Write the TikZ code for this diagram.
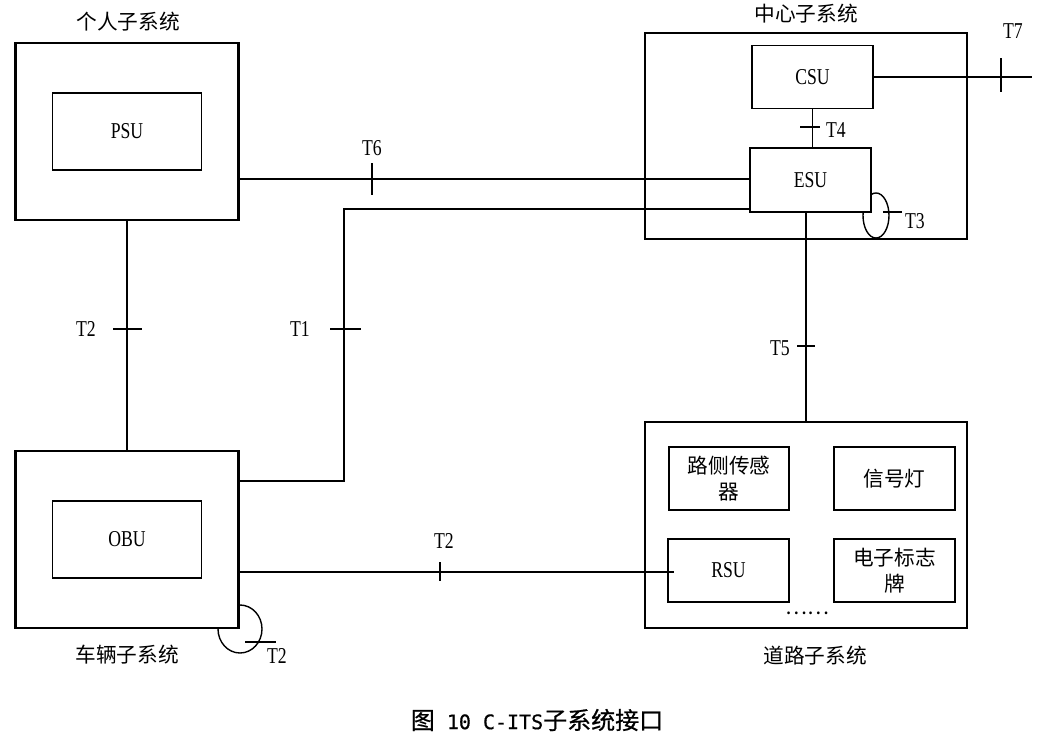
\documentclass[tikz,border=0pt]{standalone}
\usepackage{fontspec}
\setmainfont{Liberation Serif}
\newfontfamily\cjk{Noto Sans CJK SC}
\newfontfamily\cjkcap[FakeBold=0.6]{Noto Sans CJK SC}
\newfontfamily\capmono[FakeBold=0.6]{DejaVu Sans Mono}
\newfontfamily\lat[FakeStretch=0.78]{Liberation Serif}
\usetikzlibrary{calc}
\begin{document}
\begin{tikzpicture}[x=0.75pt,y=-0.75pt,
  outer/.style={draw, line width=1.9pt, fill=white, inner sep=0pt},
  innerbox/.style={draw, line width=1.2pt, fill=white, inner sep=0pt, align=center},
  wire/.style={line width=1.05pt},
  tickm/.style={line width=1.05pt},
  lbl/.style={font=\lat\fontsize{17}{20}\selectfont, inner sep=0pt},
  zh/.style={font=\cjk\fontsize{15.5}{20}\selectfont, inner sep=0pt, align=center}]
\useasboundingbox (0,0) rectangle (1046,743);
\fill[white] (0,0) rectangle (1046,743);
% loop of the vehicle subsystem (drawn first, the box covers its inner part)
\draw[wire] (240,629) ellipse [x radius=16.5pt, y radius=18pt];
% outer boxes
\node[outer, minimum width=167.25pt, minimum height=132.75pt] (personal) at (127,131.5) {};
\node[outer, minimum width=167.25pt, minimum height=132.75pt] (vehicle) at (127,539.5) {};
\node[outer, minimum width=241.5pt, minimum height=154.5pt] (center) at (806,136) {};
\node[outer, minimum width=241.5pt, minimum height=154.5pt] (road) at (806,525) {};
% loop of ESU
\draw[wire] (876,215.5) ellipse [x radius=9.75pt, y radius=16.9pt];
% inner boxes
\node[innerbox, lbl, minimum width=111.75pt, minimum height=57.75pt] (psu) at (127,131.5) {PSU};
\node[innerbox, lbl, minimum width=111.75pt, minimum height=57.75pt] (obu) at (127,539.5) {OBU};
\node[innerbox, lbl, minimum width=90.75pt, minimum height=47.25pt] (CSU) at (812.5,77) {CSU};
\node[innerbox, lbl, minimum width=90.75pt, minimum height=48pt] (ESU) at (810.5,180) {ESU};
\node[innerbox, zh, minimum width=90pt, minimum height=47.25pt] (sensor) at (729,478.5) {路侧传感\\器};
\node[innerbox, zh, minimum width=90.75pt, minimum height=47.25pt] (signal) at (894.5,478.5) {信号灯};
\node[innerbox, lbl, minimum width=90.75pt, minimum height=47.25pt] (RSU) at (728.5,570.5) {RSU};
\node[innerbox, zh, minimum width=90.75pt, minimum height=47.25pt] (sign) at (894.5,570.5) {电子标志\\牌};
\node[zh] (dots) at (807,613) {……};
% titles
\node[zh] (tpersonal) at (128,22) {个人子系统};
\node[zh] (tvehicle) at (127,655) {车辆子系统};
\node[zh] (tcenter) at (806,14) {中心子系统};
\node[zh] (troad) at (815,656) {道路子系统};
% connectors
\coordinate (t1a) at (344,209);
\coordinate (t1b) at (344,481);
\coordinate (t7end) at (1032,77);
\draw[wire] (personal.east |- 0,179) -- (ESU.west |- 0,179);
\draw[wire] (ESU.west |- t1a) -- (t1a) -- (t1b) -- (vehicle.east |- t1b);
\draw[wire] (personal.south) -- (vehicle.north);
\draw[wire] (vehicle.east |- 0,572) -- ($(RSU.west |- 0,572)+(7,0)$);
\draw[wire] (CSU.south) -- (CSU.south |- ESU.north);
\draw[wire] (road.north) -- (road.north |- ESU.south);
\draw[wire] (CSU.east) -- (t7end);
% ticks
\draw[tickm] (372,163) -- (372,195);
\draw[tickm] (330,329) -- (361,329);
\draw[tickm] (113,329) -- (142,329);
\draw[tickm] (440,562) -- (440,581);
\draw[tickm] (245,642) -- (276,642);
\draw[tickm] (797,346) -- (815,346);
\draw[tickm] (800,127) -- (820,127);
\draw[tickm] (883,212) -- (902,212);
\draw[tickm] (1001,58) -- (1001,92);
% interface labels
\node[lbl] (lT6) at (372,148) {T6};
\node[lbl] (lT1) at (300,329) {T1};
\node[lbl] (lT2a) at (86,329) {T2};
\node[lbl] (lT2b) at (444,541) {T2};
\node[lbl] (lT2c) at (277,656) {T2};
\node[lbl] (lT5) at (780,348) {T5};
\node[lbl] (lT4) at (836,130) {T4};
\node[lbl] (lT3) at (915,221) {T3};
\node[lbl] (lT7) at (1013,31) {T7};
% caption
\node[inner sep=0pt] (cap) at (537,720) {\cjkcap\fontsize{18}{20}\selectfont 图{\capmono\fontsize{15}{20}\selectfont\ 10 C-ITS}子系统接口};
\end{tikzpicture}
\end{document}
